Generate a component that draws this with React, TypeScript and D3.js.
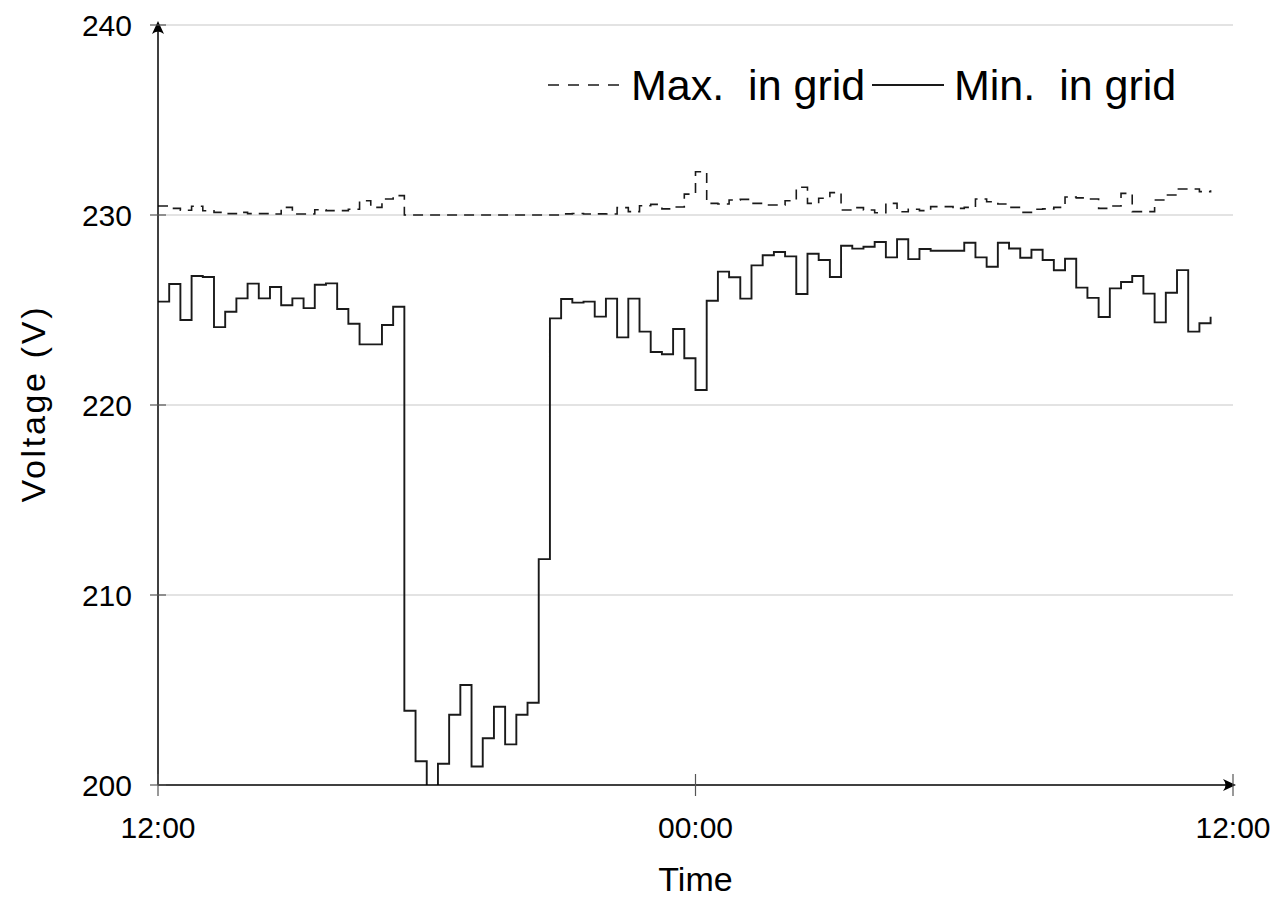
import { useMemo } from 'react';
import * as d3 from 'd3';

// 15-minute samples starting at 12:00, last one at 11:30 next day
const maxInGrid = [
    230.47, 230.35, 230.25, 230.46, 230.22, 230.14, 230.07, 230.14, 230.07, 230.07,
    230.05, 230.40, 230.05, 230.05, 230.28, 230.23, 230.23, 230.30, 230.75, 230.40,
    230.84, 231.02, 230.0, 230.0, 230.0, 230.0, 230.0, 230.0, 230.0, 230.0,
    230.0, 230.0, 230.0, 230.0, 230.0, 230.0, 230.06, 230.08, 230.05, 230.06,
    230.05, 230.39, 230.18, 230.49, 230.56, 230.32, 230.42, 231.10, 232.28, 230.61,
    230.58, 230.79, 230.82, 230.61, 230.53, 230.53, 230.75, 231.46, 230.61, 230.88,
    231.18, 230.26, 230.39, 230.26, 230.12, 230.61, 230.17, 230.30, 230.23, 230.44,
    230.44, 230.35, 230.40, 230.84, 230.70, 230.58, 230.40, 230.14, 230.30, 230.32,
    230.40, 230.95, 230.90, 230.84, 230.35, 230.47, 231.14, 230.18, 230.18, 230.79,
    231.05, 231.37, 231.37, 231.23, 231.30,
];

const minInGrid = [
    225.44, 226.37, 224.47, 226.79, 226.74, 224.10, 224.91, 225.61, 226.39, 225.61,
    226.21, 225.25, 225.61, 225.10, 226.33, 226.40, 225.05, 224.28, 223.19, 223.19,
    224.21, 225.17, 203.91, 201.25, 199.6, 201.12, 203.70, 205.26, 200.97, 202.46,
    204.12, 202.14, 203.70, 204.33, 211.89, 224.56, 225.58, 225.39, 225.44, 224.65,
    225.60, 223.56, 225.60, 223.86, 222.79, 222.67, 224.00, 222.46, 220.79, 225.49,
    227.02, 226.72, 225.60, 227.35, 227.88, 228.05, 227.82, 225.84, 227.96, 227.63,
    226.74, 228.38, 228.23, 228.33, 228.58, 227.77, 228.72, 227.68, 228.21, 228.12,
    228.12, 228.12, 228.54, 227.77, 227.28, 228.54, 228.24, 227.75, 228.17, 227.63,
    227.09, 227.70, 226.18, 225.64, 224.63, 226.14, 226.47, 226.79, 225.86, 224.35,
    225.91, 227.10, 223.86, 224.30, 224.65,
];

const yTicks = [200, 210, 220, 230, 240];
const xTickLabels = ['12:00', '00:00', '12:00'];
const legendLabels = ['Max.\u00a0 in grid', 'Min.\u00a0 in grid'];

const W = 1287;
const H = 898;
const margin = { left: 158, right: 54, top: 25, bottom: 113 };
const font = "'Liberation Sans', Arial, sans-serif";

export default function App() {
    const start = new Date(2020, 0, 1, 12, 0);
    const end = new Date(2020, 0, 2, 12, 0);

    const x = d3.scaleTime().domain([start, end]).range([margin.left, W - margin.right]);
    const y = d3.scaleLinear().domain([200, 240]).range([H - margin.bottom, margin.top]);

    const xTickDates = [start, new Date(2020, 0, 2, 0, 0), end];

    const t = (i: number) => d3.timeMinute.offset(start, 15 * i);

    const line = useMemo(
        () =>
            d3
                .line<number>()
                .x((_, i) => x(t(i)))
                .y(d => y(d))
                .curve(d3.curveStepAfter),
        []
    );

    const x0 = margin.left;
    const x1 = W - margin.right;
    const y0 = H - margin.bottom;
    const y1 = margin.top;

    // arrow tips
    const ty = y1 - 4;
    const tx = x1 + 3;

    return (
        <svg width={W} height={H} style={{ position: 'absolute', left: 0, top: 0, background: '#fff' }}>
            <defs>
                <clipPath id="plot">
                    <rect x={x0} y={y1} width={x1 - x0} height={y0 - y1} />
                </clipPath>
            </defs>

            {/* grid */}
            {yTicks.filter(v => v > 200).map(v => (
                <line key={v} x1={x0} x2={x1} y1={y(v)} y2={y(v)} stroke="#c8c8c8" strokeWidth={1.2} />
            ))}

            {/* series */}
            <g clipPath="url(#plot)" fill="none">
                <path d={line(maxInGrid) ?? ''} stroke="#1a1a1a" strokeWidth={1.6} strokeDasharray="10,7" />
                <path d={line(minInGrid) ?? ''} stroke="#1a1a1a" strokeWidth={1.9} />
            </g>

            {/* axes */}
            <line x1={x0} x2={x0} y1={y0} y2={ty + 4} stroke="#000" strokeWidth={1.5} />
            <line x1={x0} x2={tx - 4} y1={y0} y2={y0} stroke="#000" strokeWidth={1.5} />
            <path d={`M${x0},${ty} L${x0 - 6},${ty + 13} Q${x0},${ty + 8} ${x0 + 6},${ty + 13} Z`} fill="#000" />
            <path d={`M${tx},${y0} L${tx - 13},${y0 - 6} Q${tx - 8},${y0} ${tx - 13},${y0 + 6} Z`} fill="#000" />

            {yTicks.map(v => (
                <g key={v}>
                    <line x1={x0 - 8} x2={x0 + 8} y1={y(v)} y2={y(v)} stroke="#555" strokeWidth={1.2} />
                    <text x={x0 - 26} y={y(v)} dy="0.36em" textAnchor="end" fontFamily={font} fontSize={30} fill="#000">
                        {v}
                    </text>
                </g>
            ))}

            {xTickDates.map((d, i) => (
                <g key={i}>
                    <line x1={x(d)} x2={x(d)} y1={y0 - 11} y2={y0 + 11} stroke="#555" strokeWidth={1.2} />
                    <text x={x(d)} y={y0 + 53} textAnchor="middle" fontFamily={font} fontSize={30} fill="#000">
                        {xTickLabels[i]}
                    </text>
                </g>
            ))}

            <text x={(x0 + x1) / 2} y={H - 7} textAnchor="middle" fontFamily={font} fontSize={34} fill="#000">
                Time
            </text>
            <text transform={`translate(45,${(y0 + y1) / 2}) rotate(-90)`} textAnchor="middle" fontFamily={font}
                fontSize={34} fill="#000" textLength={195} lengthAdjust="spacing">
                Voltage (V)
            </text>

            {/* legend */}
            <g fontFamily={font} fontSize={43} fill="#000">
                <line x1={548} x2={626} y1={85} y2={85} stroke="#1a1a1a" strokeWidth={1.6} strokeDasharray="11,9" />
                <text x={631} y={100}>{legendLabels[0]}</text>
                <line x1={872} x2={944} y1={85} y2={85} stroke="#1a1a1a" strokeWidth={1.9} />
                <text x={954} y={100}>{legendLabels[1]}</text>
            </g>
        </svg>
    );
}
